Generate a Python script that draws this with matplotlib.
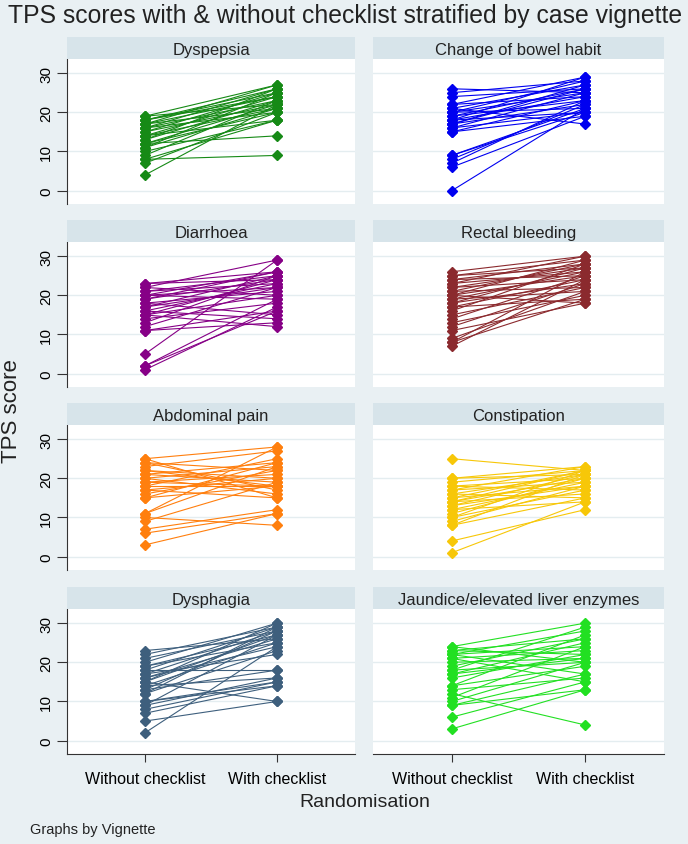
import numpy as np
import matplotlib.pyplot as plt

plt.rcParams['font.family'] = ['Liberation Sans', 'DejaVu Sans']

# vignettes, in panel order (row by row)
vignettes = ['Dyspepsia', 'Change of bowel habit', 'Diarrhoea', 'Rectal bleeding',
             'Abdominal pain', 'Constipation', 'Dysphagia',
             'Jaundice/elevated liver enzymes']
colors = ['#168a16', '#0000f0', '#860086', '#8b2a2e',
          '#ff7f0e', '#f7c708', '#3e5f7d', '#22e022']
groups = ['Without checklist', 'With checklist']

# (without, with) TPS score pairs per vignette
dyspepsia = [(19, 27), (18, 26), (18, 25), (17, 27), (17, 24), (16, 26), (16, 23),
             (15, 25), (15, 22), (14, 24), (14, 21), (13, 26), (13, 23), (12, 22),
             (12, 20), (12, 14), (11, 25), (11, 21), (10, 18), (9, 23), (8, 9),
             (8, 18), (7, 20), (4, 22), (19, 22), (16, 20), (14, 18), (18, 24), (17, 21)]
bowel = [(26, 25), (24, 26), (25, 28), (22, 29), (21, 27), (20, 28), (20, 25),
         (19, 26), (19, 23), (18, 29), (18, 24), (17, 27), (17, 22), (16, 25),
         (16, 20), (15, 23), (15, 19), (21, 17), (22, 24), (18, 20), (9, 20),
         (8, 22), (9, 21), (7, 23), (6, 19), (0, 21), (17, 26), (20, 21)]
diarrhoea = [(23, 26), (23, 24), (22, 29), (22, 20), (21, 25), (21, 23), (20, 22),
             (20, 19), (19, 26), (19, 24), (18, 21), (18, 15), (17, 25), (17, 22),
             (16, 23), (16, 14), (15, 24), (15, 12), (15, 20), (14, 18), (13, 25),
             (12, 22), (11, 16), (11, 13), (5, 29), (2, 19), (1, 17), (2, 16), (20, 26)]
rectal = [(26, 30), (25, 29), (25, 27), (24, 28), (24, 25), (23, 30), (23, 26),
          (22, 27), (22, 24), (21, 28), (21, 22), (20, 29), (20, 25), (19, 26),
          (19, 21), (18, 27), (18, 23), (17, 24), (17, 19), (16, 28), (15, 22),
          (14, 25), (13, 20), (12, 23), (11, 18), (9, 21), (8, 19), (7, 24),
          (8, 26), (20, 18)]
abdominal = [(25, 15), (25, 28), (24, 22), (24, 17), (23, 27), (22, 20), (22, 18),
             (21, 24), (21, 19), (20, 23), (20, 16), (19, 21), (19, 18), (18, 18),
             (18, 25), (17, 20), (16, 22), (15, 24), (15, 18), (11, 23), (11, 28),
             (10, 8), (9, 19), (7, 12), (6, 11), (3, 11), (17, 15)]
constipation = [(25, 22), (20, 23), (20, 21), (19, 22), (18, 20), (18, 17), (17, 23),
                (17, 19), (16, 21), (16, 15), (15, 22), (15, 18), (14, 20), (14, 16),
                (13, 21), (13, 18), (12, 19), (12, 14), (11, 20), (10, 22), (10, 17),
                (9, 18), (8, 21), (8, 15), (4, 12), (1, 14), (14, 22)]
dysphagia = [(23, 26), (22, 29), (21, 28), (20, 30), (19, 27), (19, 25), (18, 29),
             (17, 22), (17, 28), (16, 26), (16, 24), (15, 30), (15, 27), (15, 10),
             (14, 25), (14, 16), (13, 28), (13, 18), (12, 23), (10, 15), (10, 14),
             (9, 16), (9, 27), (8, 15), (7, 14), (5, 10), (2, 24), (12, 29), (18, 18)]
jaundice = [(24, 30), (24, 20), (23, 26), (23, 22), (22, 28), (22, 17), (22, 24),
            (21, 23), (21, 15), (18, 29), (18, 20), (17, 25), (17, 21), (16, 22),
            (14, 27), (14, 19), (13, 16), (12, 4), (11, 24), (10, 20), (9, 13),
            (9, 17), (6, 15), (3, 13), (19, 26), (20, 21)]
scores = [dyspepsia, bowel, diarrhoea, rectal, abdominal, constipation, dysphagia, jaundice]

W, H = 688, 845
bg = '#e9f0f3'
strip_col = '#d7e4ea'
grid_col = '#e4edf0'

fig = plt.figure(figsize=(W / 100, H / 100), dpi=100, facecolor=bg)

lefts = [67, 373]
widths = [288, 291]
tops = [60, 243, 426, 610]
ph = 145
sh = 22

for i, (name, col, pairs) in enumerate(zip(vignettes, colors, scores)):
    r, c = divmod(i, 2)
    ax = fig.add_axes([lefts[c] / W, 1 - (tops[r] + ph) / H, widths[c] / W, ph / H])
    ax.set_facecolor('white')
    for a, b in pairs:
        ax.plot([0, 1], [a, b], color=col, lw=0.8, marker='D', ms=5.5, mec=col, mfc=col)
    ax.set_xlim(-0.59, 1.59)
    ax.set_ylim(-3.4, 33.6)
    ax.set_yticks([0, 10, 20, 30])
    ax.yaxis.grid(True, color=grid_col, lw=1)
    ax.set_axisbelow(True)
    for s in ['top', 'right']:
        ax.spines[s].set_visible(False)
    ax.spines['left'].set_visible(c == 0)
    ax.spines['bottom'].set_visible(r == 3)
    ax.spines['left'].set_color('#333333')
    ax.spines['bottom'].set_color('#333333')
    if c == 0:
        ax.tick_params(axis='y', length=7, color='#333333', labelsize=11, pad=3)
        for t in ax.get_yticklabels():
            t.set_rotation(90)
            t.set_va('center')
    else:
        ax.tick_params(axis='y', length=0, labelleft=False)
    ax.set_xticks([0, 1])
    if r == 3:
        ax.set_xticklabels(groups)
        ax.tick_params(axis='x', length=6, color='#333333', labelsize=11.5, pad=6)
    else:
        ax.tick_params(axis='x', length=0, labelbottom=False)

    # strip title
    sax = fig.add_axes([lefts[c] / W, 1 - tops[r] / H, widths[c] / W, sh / H])
    sax.set_facecolor(strip_col)
    sax.set_xticks([])
    sax.set_yticks([])
    for s in sax.spines.values():
        s.set_visible(False)
    sax.text(0.5, 0.45, name, ha='center', va='center', fontsize=12, color='#222222',
             transform=sax.transAxes)

fig.text(8 / W, 1 - 16 / H, 'TPS scores with & without checklist stratified by case vignette',
         fontsize=17.8, color='#222222', ha='left', va='center')
fig.text(12 / W, 1 - 411 / H, 'TPS score', rotation=90, fontsize=16, color='#222222',
         ha='center', va='center')
fig.text(365 / W, 1 - 803 / H, 'Randomisation', fontsize=14, color='#222222',
         ha='center', va='center')
fig.text(30 / W, 1 - 830 / H, 'Graphs by Vignette', fontsize=10.5, color='#222222',
         ha='left', va='center')

fig.savefig('out.png', dpi=100, facecolor=bg)
